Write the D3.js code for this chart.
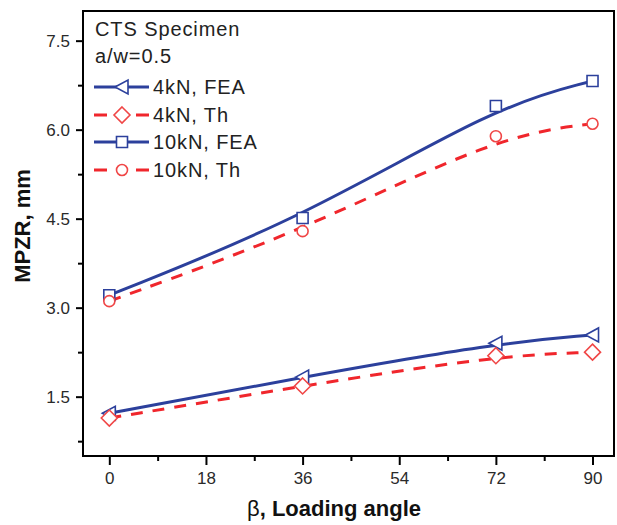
<!DOCTYPE html>
<html lang="en">
<head>
    <meta charset="UTF-8">
    <title>MPZR vs loading angle</title>
    <script src="https://d3js.org/d3.v7.min.js"></script>
    <style>
        body { margin: 0; background: #fff; }
        svg { display: block; font-family: Arial, "Liberation Sans", sans-serif; }
        .tick-label { font-size: 17px; fill: #2a2a2a; }
        .legend-text { font-size: 20px; fill: #222; letter-spacing: 0.9px; }
        .title { font-size: 22px; font-weight: bold; fill: #111; }
    </style>
</head>
<body>
<script>
    /* data */
    let angles = [0, 36, 72, 90];
    let fea4 = [1.22, 1.83, 2.40, 2.54];
    let th4 = [1.14, 1.68, 2.19, 2.25];
    let fea10 = [3.21, 4.51, 6.40, 6.82];
    let th10 = [3.11, 4.29, 5.89, 6.10];

    let xTicks = [0, 18, 36, 54, 72, 90];
    let yTicks = [1.5, 3.0, 4.5, 6.0, 7.5];
    let seriesNames = ["4kN, FEA", "4kN, Th", "10kN, FEA", "10kN, Th"];

    let blue = "#2c409c", red = "#f0262c", redMark = "#f04646";

    let width = 617, height = 525;
    let margin = { left: 83, top: 11, right: 3, bottom: 69 };
    let innerW = width - margin.left - margin.right,
        innerH = height - margin.top - margin.bottom;

    let svg = d3.select("body").append("svg")
        .attr("width", width)
        .attr("height", height);

    let x = d3.scaleLinear().domain([-4.9, 94]).range([0, innerW]);
    let y = d3.scaleLinear().domain([0.5, 8.0]).range([innerH, 0]);

    let g = svg.append("g").attr("transform", `translate(${margin.left}, ${margin.top})`);

    /* 坐标轴: major + minor ticks, outward */
    let xMinor = d3.range(9, 90, 18);
    let yMinor = d3.range(0.75, 8, 1.5);

    let xAxis = d3.axisBottom(x).tickValues(xTicks).tickSize(9).tickPadding(7).tickFormat(d3.format("d"));
    let yAxis = d3.axisLeft(y).tickValues(yTicks).tickSize(7).tickPadding(6).tickFormat(d3.format(".1f"));

    function styleAxis(sel) {
        sel.select(".domain").remove();
        sel.selectAll("line").attr("stroke", "#000").attr("stroke-width", 2);
        sel.selectAll("text").attr("class", "tick-label").attr("font-size", null).attr("font-family", null).attr("fill", null);
    }

    g.append("g").attr("transform", `translate(0, ${innerH})`).call(xAxis).call(styleAxis);
    g.append("g").call(yAxis).call(styleAxis);

    g.append("g").attr("transform", `translate(0, ${innerH})`)
        .call(d3.axisBottom(x).tickValues(xMinor).tickSize(5).tickFormat(""))
        .call(styleAxis);
    g.append("g")
        .call(d3.axisLeft(y).tickValues(yMinor).tickSize(5).tickFormat(""))
        .call(styleAxis);

    /* frame */
    g.append("rect")
        .attr("width", innerW).attr("height", innerH)
        .attr("fill", "none").attr("stroke", "#000").attr("stroke-width", 2);

    /* markers */
    function marker(sel, type, color) {
        let s = sel.append("path")
            .attr("fill", "#fff")
            .attr("stroke", color)
            .attr("stroke-width", 1.6);
        if (type === "tri") s.attr("d", "M-7,0 L6,-7 L6,7 Z");
        if (type === "dia") s.attr("d", "M0,-8 L8,0 L0,8 L-8,0 Z");
        if (type === "sq") s.attr("d", "M-5.5,-5.5 H5.5 V5.5 H-5.5 Z");
        if (type === "cir") s.attr("d", d3.symbol(d3.symbolCircle, 95)());
        return s;
    }

    let series = [
        { name: seriesNames[0], values: fea4, color: blue, mcolor: blue, dash: null, type: "tri" },
        { name: seriesNames[1], values: th4, color: red, mcolor: redMark, dash: "12,10", type: "dia" },
        { name: seriesNames[2], values: fea10, color: blue, mcolor: blue, dash: null, type: "sq" },
        { name: seriesNames[3], values: th10, color: red, mcolor: redMark, dash: "12,10", type: "cir" }
    ];

    /* smoothed curve like the original fit (does not pass exactly through markers) */
    let line = d3.line()
        .x(d => x(d[0]))
        .y(d => y(d[1]))
        .curve(d3.curveBasis);

    series.forEach(s => {
        let pts = angles.map((a, i) => [a, s.values[i]]);
        g.append("path")
            .datum(pts)
            .attr("d", line)
            .attr("fill", "none")
            .attr("stroke", s.color)
            .attr("stroke-width", 3)
            .attr("stroke-dasharray", s.dash);
    });

    series.forEach(s => {
        angles.forEach((a, i) => {
            let m = g.append("g").attr("transform", `translate(${x(a)}, ${y(s.values[i])})`);
            marker(m, s.type, s.mcolor);
        });
    });

    /* legend */
    svg.append("text").attr("class", "legend-text").attr("x", 95).attr("y", 36).text("CTS Specimen");
    svg.append("text").attr("class", "legend-text").attr("x", 95).attr("y", 63).text("a/w=0.5");

    let legendY = [94, 122, 149, 177];
    series.forEach((s, i) => {
        let ly = legendY[i] - 7;
        svg.append("line")
            .attr("x1", 94).attr("x2", 149)
            .attr("y1", ly).attr("y2", ly)
            .attr("stroke", s.color)
            .attr("stroke-width", 3)
            .attr("stroke-dasharray", s.dash ? "13,29,13" : null);
        marker(svg.append("g").attr("transform", `translate(122, ${ly})`), s.type, s.mcolor);
        svg.append("text").attr("class", "legend-text")
            .attr("x", 153).attr("y", legendY[i]).text(s.name);
    });

    /* axis titles */
    let xt = svg.append("text").attr("class", "title")
        .attr("x", 334).attr("y", 516).attr("text-anchor", "middle");
    xt.append("tspan").attr("font-weight", "normal").text("β");
    xt.append("tspan").text(", Loading angle");

    svg.append("text").attr("class", "title")
        .attr("transform", "translate(30, 226) rotate(-90)")
        .attr("text-anchor", "middle")
        .text("MPZR, mm");
</script>
</body>
</html>
